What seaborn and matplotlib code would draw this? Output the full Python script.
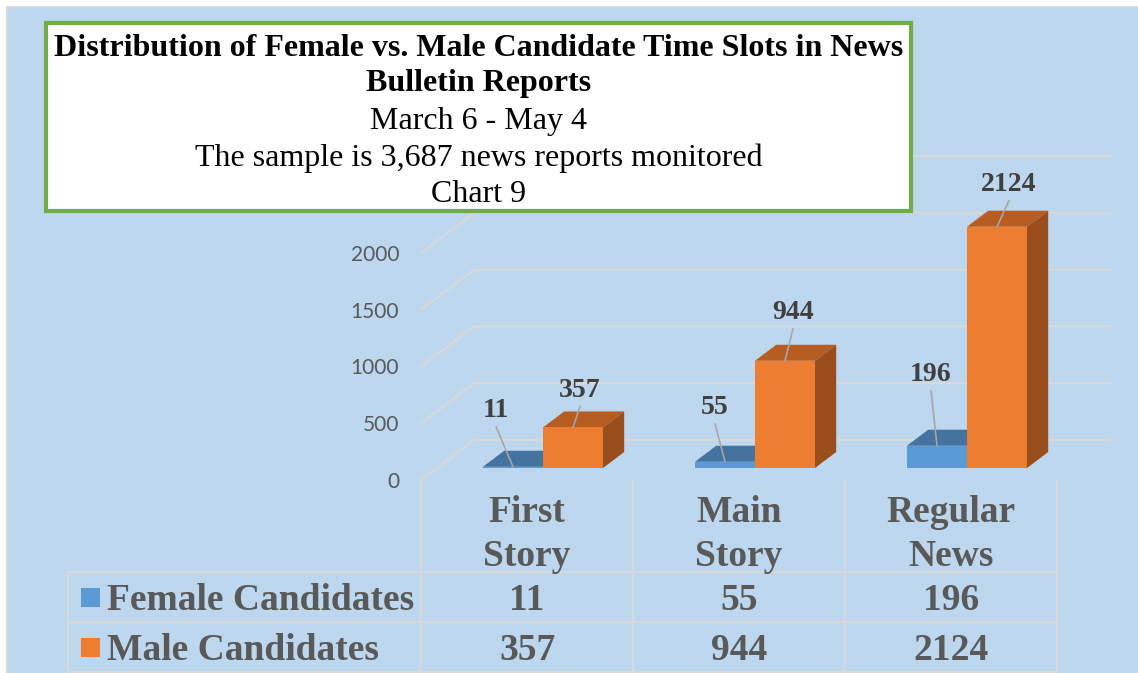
import numpy as np
import pandas as pd
import matplotlib
matplotlib.use("Agg")
import matplotlib.pyplot as plt
import seaborn as sns
from matplotlib.patches import Rectangle, Polygon
from matplotlib.lines import Line2D

# ---------------- data ----------------
categories = ["First\nStory", "Main\nStory", "Regular\nNews"]
series = ["Female Candidates", "Male Candidates"]
female = [11, 55, 196]
male = [357, 944, 2124]
y_ticks = [0, 500, 1000, 1500, 2000, 2500]
title_lines = [
    "Distribution of Female vs. Male Candidate Time Slots in News",
    "Bulletin Reports",
    "March 6 - May 4",
    "The sample is 3,687 news reports monitored",
    "Chart 9",
]

# ---------------- style ----------------
BLUE, BLUE_TOP = "#5B9BD5", "#44739F"
ORANGE, ORANGE_TOP, ORANGE_SIDE = "#ED7D31", "#B85D22", "#9A4E1E"
BG = "#BDD7EE"
GRID = "#D9D9D9"
TXT = "#595959"
LBL = "#404040"
W, H, DPI = 1138, 673, 100
VS = 3  # small vertical nudge for centred text

sns.set_style("white")
plt.rcParams["font.family"] = ["Liberation Serif", "DejaVu Sans"]

fig = plt.figure(figsize=(W / DPI, H / DPI), dpi=DPI)
fig.patch.set_facecolor("white")


def px_axes(z):
    a = fig.add_axes([0, 0, 1, 1], zorder=z)
    a.set_xlim(0, W)
    a.set_ylim(H, 0)
    a.set_axis_off()
    a.patch.set_alpha(0)
    return a


bg = px_axes(0)
x_left, x_right = 437, 1073
y_base, y_top = 468, 184
ax = fig.add_axes([x_left / W, (H - y_base) / H, (x_right - x_left) / W,
                   (y_base - y_top) / H], zorder=1)
fg = px_axes(2)

# background
bg.add_patch(Rectangle((7, 7), W, H, facecolor=BG, edgecolor=GRID, lw=1.4))

# bars (front faces) via seaborn
df = pd.DataFrame({
    "category": categories * 2,
    "series": [series[0]] * len(categories) + [series[1]] * len(categories),
    "value": female + male,
})
sns.barplot(data=df, x="category", y="value", hue="series", hue_order=series,
            order=categories, palette=[BLUE, ORANGE], width=0.566,
            saturation=1, errorbar=None, legend=False, ax=ax)
ax.set_xlim(-0.5, len(categories) - 0.5)
ax.set_ylim(0, y_ticks[-1])
ax.set_axis_off()
ax.patch.set_alpha(0)
for p in ax.patches:
    p.set_zorder(3)
    p.set_linewidth(0)

DX, DY = 53.0, -40.0  # full depth vector in pixel space (y down)
D0, D1 = 0.3, 0.7     # bar depth range


def P(xd, yd, depth):
    disp = ax.transData.transform((xd, yd))
    x, y = bg.transData.inverted().transform(disp)
    return (x + (depth - D0) * DX, y + (depth - D0) * DY)


T = bg.transData
# back wall grid + side diagonals
for v in y_ticks:
    a = P(-0.5, v, 0.0)
    b = P(-0.5, v, 1.0)
    c = P(len(categories) - 0.5, v, 1.0)
    ax.add_line(Line2D([a[0], b[0], c[0]], [a[1], b[1], c[1]], color=GRID,
                       lw=1.5, transform=T, clip_on=False, zorder=0.5))
    bg.text(a[0] - 22, a[1] + 2, f"{v}", ha="right", va="center", fontsize=15,
            color=TXT, family=["Lato", "DejaVu Sans"])

# 3D faces, labels
label_off = [[(-17, -59), (-10, -57), (-6, -74)],
             [(7, -40), (8, -51), (12, -45)]]
tops = [BLUE_TOP, ORANGE_TOP]
for si, cont in enumerate(ax.containers):
    for ci, r in enumerate(cont.patches):
        x0 = r.get_x()
        x1 = x0 + r.get_width()
        h = r.get_height()
        top = [P(x0, h, D0), P(x1, h, D0), P(x1, h, D1), P(x0, h, D1)]
        ax.add_patch(Polygon(top, closed=True, facecolor=tops[si], lw=0,
                             transform=T, clip_on=False, zorder=2))
        if si == 1:
            side = [P(x1, 0, D0), P(x1, h, D0), P(x1, h, D1), P(x1, 0, D1)]
            ax.add_patch(Polygon(side, closed=True, facecolor=ORANGE_SIDE,
                                 lw=0, transform=T, clip_on=False, zorder=2))
        anchor = P((x0 + x1) / 2, h, D0)
        ox, oy = label_off[si][ci]
        lx, ly = anchor[0] + ox, anchor[1] + oy
        ax.add_line(Line2D([lx, anchor[0]], [ly + 19, anchor[1]], color="#A6A6A6",
                           lw=1.2, transform=T, clip_on=False, zorder=4))
        ax.text(lx, ly + VS, f"{int(round(h))}", ha="center", va="center",
                fontsize=20, fontweight="bold", color=LBL, transform=T,
                zorder=5, clip_on=False)

# data table under the chart
row_tops = [572, 622, 672]
table_left = 68
bounds = [P(i - 0.5, 0, 0.0) for i in range(len(categories) + 1)]
for bx, by in bounds:
    bg.plot([bx, bx], [by, row_tops[-1]], color=GRID, lw=1.5)
bg.plot([table_left, table_left], [row_tops[0], row_tops[-1]], color=GRID, lw=1.5)
for ry in row_tops:
    bg.plot([table_left, bounds[-1][0]], [ry, ry], color=GRID, lw=1.5)

for i, cat in enumerate(categories):
    cx = P(i, 0, 0.0)[0]
    for li, line in enumerate(cat.split("\n")):
        bg.text(cx, 510 + VS + 43 * li, line, ha="center", va="center",
                fontsize=27, fontweight="bold", color=TXT)

rows = [female, male]
colors = [BLUE, ORANGE]
for ri, (name, vals) in enumerate(zip(series, rows)):
    yc = (row_tops[ri] + row_tops[ri + 1]) / 2
    bg.add_patch(Rectangle((81, yc - 9.5), 19, 19, facecolor=colors[ri], lw=0))
    bg.text(107, yc + VS, name, ha="left", va="center", fontsize=27,
            fontweight="bold", color=TXT)
    for ci, v in enumerate(vals):
        cx = P(ci, 0, 0.0)[0]
        bg.text(cx, yc + VS, f"{v}", ha="center", va="center", fontsize=27,
                fontweight="bold", color=TXT)

# title box
fg.add_patch(Rectangle((46, 23), 865, 188, facecolor="white",
                       edgecolor="#70AD47", lw=3))
title_y = [45, 80, 118, 155, 191]
for i, (t, ty) in enumerate(zip(title_lines, title_y)):
    fg.text(479, ty + VS, t, ha="center", va="center", fontsize=23,
            fontweight="bold" if i < 2 else "normal", color="black")

fig.savefig("out.png", dpi=DPI, facecolor=fig.get_facecolor())
